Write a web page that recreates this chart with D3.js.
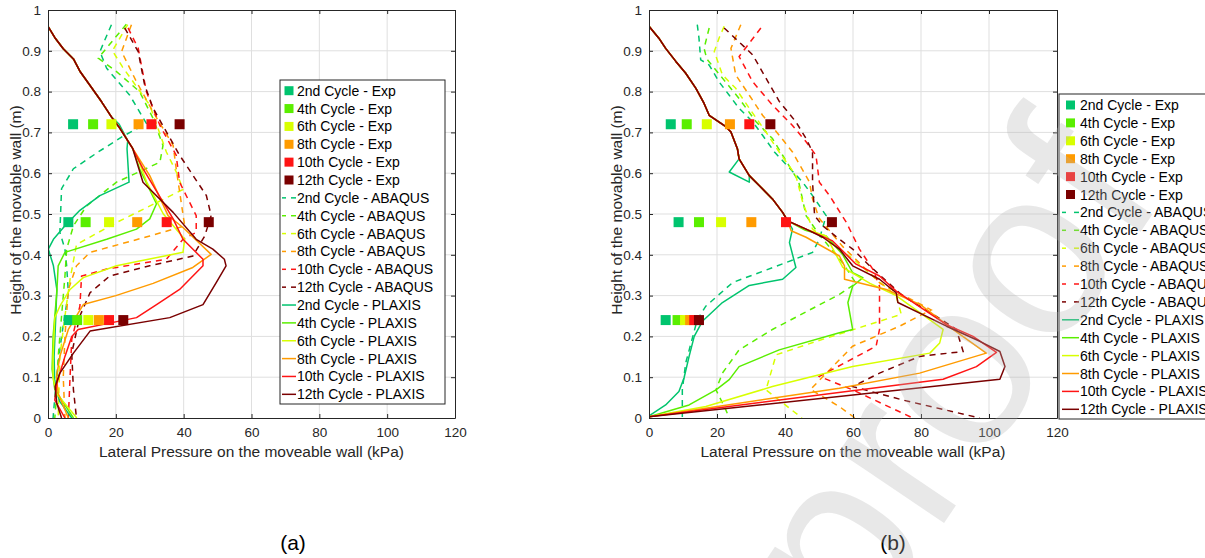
<!DOCTYPE html>
<html>
<head>
<meta charset="utf-8">
<script src="https://cdn.jsdelivr.net/npm/d3@7"></script>
<style>
  html, body { margin: 0; padding: 0; background: #fff; }
  svg { display: block; font-family: "Liberation Sans", Arial, sans-serif; }
</style>
</head>
<body>
<svg id="fig" width="1205" height="558"></svg>
<script>
// ---------- shared definitions ----------
const cycles = ["2nd", "4th", "6th", "8th", "10th", "12th"];
const cycleColors = ["#00c46e", "#5aee00", "#d8ff00", "#ff9b00", "#ff1414", "#7a0000"];
const expHeights = [0.72, 0.48, 0.24];
const xTicks = [0, 20, 40, 60, 80, 100, 120];
const yTicks = [0, 0.1, 0.2, 0.3, 0.4, 0.5, 0.6, 0.7, 0.8, 0.9, 1];

// ---------- panel (a) ----------
// measured pressure (kPa) at heights 0.72, 0.48, 0.24 m, one row per cycle
const expA = [
  [7.4, 6.0, 6.1],
  [13.3, 11.1, 8.6],
  [18.7, 18.0, 11.9],
  [26.7, 26.3, 15.0],
  [30.5, 35.0, 18.0],
  [38.8, 47.4, 22.2]
];
// ABAQUS profiles, [pressure kPa, height m]
const abaqusA = [
  [[18.7,0.964],[15.3,0.898],[17.3,0.857],[24.1,0.791],[29,0.722],[22,0.69],[14.8,0.652],[7.5,0.611],[4,0.562],[3.5,0.455],[5,0.414],[5.5,0.373],[6,0.307],[4,0.2],[2.5,0.1],[1.5,0]],
  [[23.1,0.965],[14.8,0.882],[20.2,0.849],[27,0.8],[31,0.734],[33.9,0.668],[33,0.627],[20.2,0.578],[11.4,0.52],[7.5,0.471],[5.5,0.414],[5,0.348],[4,0.25],[3,0.15],[2.5,0.05],[2,0]],
  [[23.5,0.964],[19,0.9],[22,0.86],[30,0.767],[34.9,0.652],[38,0.6],[39.8,0.56],[19.2,0.475],[8.4,0.425],[6.5,0.34],[5,0.25],[3.5,0.15],[3,0]],
  [[24.6,0.964],[21.7,0.898],[26.1,0.824],[31,0.75],[36.9,0.668],[37.8,0.611],[40.3,0.471],[30,0.446],[12.4,0.406],[8.4,0.373],[6,0.315],[5,0.2],[4.5,0.1],[5,0]],
  [[23.6,0.956],[26.6,0.906],[29,0.8],[33,0.717],[37.8,0.644],[38.8,0.578],[43.7,0.496],[43.7,0.455],[39.8,0.438],[34.9,0.389],[17.3,0.365],[9.9,0.348],[9.4,0.274],[7,0.192],[6.5,0.1],[6,0]],
  [[22.6,0.956],[26.6,0.898],[28.5,0.816],[31,0.759],[38.8,0.644],[46.7,0.545],[48.1,0.496],[46.2,0.446],[42.7,0.397],[30,0.373],[18.2,0.348],[12.4,0.307],[9.4,0.25],[7,0.159],[7.5,0.069],[8.4,0]]
];
// PLAXIS profiles share the upper part of the wall
const plaxisTopA = [[0,0.96],[2.2,0.93],[4.5,0.905],[7.5,0.88],[9.4,0.85],[12.4,0.815],[15.8,0.775],[18.7,0.738]];
const plaxisA = [
  plaxisTopA.concat([[21,0.72],[23.5,0.68],[23.3,0.66],[23.9,0.578],[15.3,0.545],[9.4,0.509],[5,0.471],[1.6,0.438],[0.1,0.414],[1.6,0.373],[2.6,0.315],[2.3,0.25],[1.8,0.15],[2,0.08],[3.5,0.04],[7,0]]),
  plaxisTopA.concat([[21.2,0.71],[25,0.66],[27,0.611],[32,0.525],[30,0.488],[26.1,0.463],[17.3,0.438],[5,0.406],[3,0.373],[2.6,0.308],[1.5,0.2],[1.2,0.12],[2,0.07],[7.5,0]]),
  plaxisTopA.concat([[21.2,0.71],[25,0.66],[27,0.625],[29,0.58],[34,0.5],[40.3,0.438],[39.8,0.406],[27,0.385],[20.2,0.373],[10.4,0.344],[6.5,0.315],[3.5,0.274],[2,0.246],[1.5,0.15],[1.5,0.1],[2.5,0.06],[8.5,0]]),
  plaxisTopA.concat([[21.2,0.71],[25,0.66],[30,0.594],[35.4,0.496],[39.8,0.467],[48.1,0.401],[42.7,0.369],[31,0.33],[20,0.3],[10.4,0.278],[6,0.217],[3.5,0.151],[2.5,0.1],[3,0.06],[6,0]]),
  plaxisTopA.concat([[21.2,0.71],[25,0.66],[28,0.611],[36.9,0.488],[39.8,0.438],[45.7,0.389],[45.7,0.373],[38.8,0.315],[32,0.278],[26.1,0.246],[8.9,0.217],[7,0.2],[5,0.151],[2.6,0.085],[2,0.044],[5,0]]),
  plaxisTopA.concat([[21.2,0.71],[25,0.66],[28,0.578],[36.9,0.504],[43.7,0.438],[48.6,0.414],[52,0.389],[52.5,0.373],[49.6,0.332],[45.7,0.278],[35.9,0.246],[12.4,0.213],[7.5,0.159],[3.5,0.11],[2.1,0.077],[2.6,0.036],[4,0]])
];

// ---------- panel (b) ----------
const expB = [
  [6.4, 8.7, 4.9],
  [11.1, 14.7, 8.4],
  [17.0, 21.2, 10.6],
  [23.8, 30.1, 12.1],
  [29.5, 40.3, 13.3],
  [35.7, 53.8, 14.7]
];
const abaqusB = [
  [[14.2,0.964],[14.7,0.931],[15.2,0.878],[17.7,0.865],[20.6,0.824],[23.6,0.791],[26.5,0.759],[30.5,0.726],[33.4,0.693],[36.9,0.652],[45.2,0.578],[48.1,0.545],[52.1,0.496],[50.1,0.438],[48.1,0.406],[40.3,0.381],[24.6,0.332],[16.7,0.274],[14.2,0.241],[10.8,0.135],[9.8,0.069],[9.8,0]],
  [[17.7,0.956],[16.2,0.906],[17,0.88],[21.6,0.833],[26.5,0.783],[31.5,0.726],[36.3,0.685],[39.3,0.644],[44,0.58],[46.2,0.496],[50,0.45],[57,0.38],[60.9,0.33],[56,0.303],[36.3,0.217],[26.5,0.167],[21.6,0.11],[19.7,0.069],[22.6,0.02],[23.6,0]],
  [[22.1,0.96],[20.6,0.931],[19.2,0.898],[21.6,0.841],[25.5,0.808],[29.5,0.759],[34.4,0.701],[38.3,0.652],[43.2,0.594],[45.2,0.529],[48.1,0.463],[60,0.39],[72.7,0.299],[74.2,0.254],[50,0.19],[37.4,0.155],[34.4,0.069],[45,0]],
  [[27,0.964],[24.1,0.906],[25.5,0.841],[29.5,0.791],[33.4,0.742],[38.3,0.693],[42.2,0.652],[47.2,0.578],[48.1,0.537],[50,0.49],[57,0.42],[68,0.33],[83,0.265],[73.7,0.225],[59.9,0.176],[47.5,0.07],[56,0.028],[60.6,0]],
  [[32.9,0.956],[26.5,0.886],[30.5,0.824],[36.3,0.767],[42.2,0.717],[46.2,0.677],[49.1,0.644],[50.1,0.578],[53.1,0.545],[58,0.48],[61.9,0.414],[65.8,0.365],[67.8,0.323],[67.8,0.217],[66.8,0.176],[50.1,0.102],[59.9,0.069],[77.6,0]],
  [[22.1,0.956],[28.5,0.906],[30.5,0.89],[34.4,0.833],[38.3,0.776],[43.2,0.726],[46.2,0.685],[48.1,0.652],[48.1,0.578],[48.7,0.496],[51.1,0.471],[56,0.438],[59.9,0.414],[64.9,0.373],[74.7,0.299],[79.6,0.274],[84.5,0.249],[90.4,0.217],[92.4,0.163],[79.6,0.151],[67.8,0.11],[59.9,0.077],[74.7,0.044],[97.3,0]]
];
const plaxisTopB = [[0,0.96],[2.9,0.931],[4.9,0.906],[7.9,0.874],[10.8,0.845],[13.8,0.808],[16.2,0.771],[17.7,0.742],[22.6,0.714],[24.1,0.701],[26,0.66],[26.5,0.635]];
const plaxisMidB = [[29.5,0.594],[32.4,0.57],[36.3,0.537],[39.3,0.504],[40.8,0.483]];
const plaxisB = [
  plaxisTopB.concat([[23.6,0.603],[29.5,0.578]], plaxisMidB, [[42.2,0.463],[41.3,0.43],[43.2,0.369],[39.3,0.34],[29.5,0.325],[21.6,0.283],[15.7,0.237],[13.3,0.2],[11.8,0.151],[10.3,0.098],[8.8,0.065],[4.9,0.032],[0,0.005]]),
  plaxisTopB.concat(plaxisMidB, [[46,0.46],[52.1,0.446],[57,0.4],[59.9,0.356],[62.9,0.344],[59.9,0.323],[58.5,0.283],[59.9,0.217],[56,0.209],[38.3,0.167],[26.5,0.126],[23.6,0.094],[19.7,0.069],[11.8,0.032],[0,0.003]]),
  plaxisTopB.concat(plaxisMidB, [[47,0.46],[52.1,0.446],[57,0.369],[65,0.33],[72.7,0.3],[86.5,0.217],[85.5,0.184],[82.6,0.159],[59.9,0.126],[50.1,0.106],[36.3,0.077],[16.7,0.028],[0,0.003]]),
  plaxisTopB.concat(plaxisMidB, [[41.8,0.459],[46.2,0.443],[56,0.397],[57.5,0.373],[57.5,0.34],[69.8,0.315],[79.8,0.278],[89.4,0.217],[99.2,0.159],[79.6,0.11],[56,0.073],[0,0.003]]),
  plaxisTopB.concat(plaxisMidB, [[47,0.46],[54,0.434],[60.9,0.377],[67.8,0.348],[72.7,0.311],[87.5,0.229],[95.3,0.2],[102.2,0.161],[96.3,0.126],[86.5,0.095],[0,0.003]]),
  plaxisTopB.concat(plaxisMidB, [[46.2,0.463],[51.1,0.443],[56,0.414],[59.9,0.373],[67.8,0.34],[72.7,0.307],[73.2,0.283],[87.5,0.225],[97.3,0.188],[103.2,0.163],[104.7,0.126],[103.2,0.095],[0,0.003]])
];

// ---------- drawing ----------
const svg = d3.select("#fig");

function drawPanel(opt) {
  const x = d3.scaleLinear().domain([0, 120]).range(opt.xRange);
  const y = d3.scaleLinear().domain([0, 1]).range([418, 10]);
  const g = svg.append("g");
  const [x0, x1] = opt.xRange;
  const clipId = "clip-" + opt.tag.replace(/\W/g, "");

  g.append("clipPath").attr("id", clipId)
    .append("rect").attr("x", x0).attr("y", 10).attr("width", x1 - x0).attr("height", 408);

  // grid
  g.append("g").selectAll("line").data(xTicks.slice(1, -1)).join("line")
    .attr("x1", d => x(d)).attr("x2", d => x(d)).attr("y1", 10).attr("y2", 418)
    .attr("stroke", "#dfdfdf").attr("stroke-width", 1);
  g.append("g").selectAll("line").data(yTicks.slice(1, -1)).join("line")
    .attr("y1", d => y(d)).attr("y2", d => y(d)).attr("x1", x0).attr("x2", x1)
    .attr("stroke", "#dfdfdf").attr("stroke-width", 1);

  const plot = g.append("g").attr("clip-path", `url(#${clipId})`);
  const line = d3.line().x(d => x(d[0])).y(d => y(d[1]));

  // ABAQUS (dashed)
  plot.selectAll("path.abq").data(opt.abaqus).join("path")
    .attr("class", "abq")
    .attr("d", line).attr("fill", "none")
    .attr("stroke", (d, i) => cycleColors[i])
    .attr("stroke-width", 1.5).attr("stroke-dasharray", "6,5");

  // PLAXIS (solid)
  plot.selectAll("path.plx").data(opt.plaxis).join("path")
    .attr("class", "plx")
    .attr("d", line).attr("fill", "none")
    .attr("stroke", (d, i) => cycleColors[i])
    .attr("stroke-width", 1.5).attr("stroke-linejoin", "round");

  // experimental points
  opt.exp.forEach((row, i) => {
    plot.selectAll(null).data(row.map((v, k) => [v, expHeights[k]])).join("rect")
      .attr("x", d => x(d[0]) - 5).attr("y", d => y(d[1]) - 5)
      .attr("width", 10).attr("height", 10)
      .attr("fill", cycleColors[i]);
  });

  // axes (box with inward ticks on all sides)
  const axisColor = "#262626";
  const ax = g.append("g").attr("transform", "translate(0,418)")
    .call(d3.axisBottom(x).tickValues(xTicks).tickSizeInner(-4).tickSizeOuter(0).tickPadding(9));
  const ay = g.append("g").attr("transform", `translate(${x0},0)`)
    .call(d3.axisLeft(y).tickValues(yTicks).tickFormat(d3.format("~g")).tickSizeInner(-4).tickSizeOuter(0).tickPadding(7));
  const axT = g.append("g").attr("transform", "translate(0,10)")
    .call(d3.axisTop(x).tickValues(xTicks).tickSizeInner(-4).tickSizeOuter(0).tickFormat(""));
  const ayR = g.append("g").attr("transform", `translate(${x1},0)`)
    .call(d3.axisRight(y).tickValues(yTicks).tickSizeInner(-4).tickSizeOuter(0).tickFormat(""));
  [ax, ay, axT, ayR].forEach(a => {
    a.select(".domain").attr("stroke", axisColor).attr("stroke-width", 1);
    a.selectAll(".tick line").attr("stroke", axisColor);
    a.selectAll(".tick text").attr("fill", axisColor).attr("font-size", 13.5)
      .attr("font-family", "'Liberation Sans', Arial, sans-serif");
  });

  // axis titles
  g.append("text").attr("x", (x0 + x1) / 2).attr("y", 457)
    .attr("text-anchor", "middle").attr("font-size", 15.5).attr("fill", axisColor)
    .text("Lateral Pressure on the moveable wall (kPa)");
  g.append("text").attr("transform", `translate(${x0 - 27},210) rotate(-90)`)
    .attr("text-anchor", "middle").attr("font-size", 15.5).attr("fill", axisColor)
    .text("Height of the movable wall (m)");

  // panel tag
  g.append("text").attr("x", opt.tagX).attr("y", 550)
    .attr("text-anchor", "middle").attr("font-size", 21).attr("fill", "#000")
    .text(opt.tag);

  // legend
  const L = opt.legend;
  const lg = svg.append("g");
  lg.append("rect").attr("x", L.x).attr("y", L.y).attr("width", L.w).attr("height", L.h)
    .attr("fill", "#fff").attr("stroke", axisColor).attr("stroke-width", 1);
  const entries = [];
  cycles.forEach((c, i) => entries.push({ label: c + " Cycle - Exp", kind: "exp", color: cycleColors[i] }));
  cycles.forEach((c, i) => entries.push({ label: c + " Cycle - ABAQUS", kind: "abq", color: cycleColors[i] }));
  cycles.forEach((c, i) => entries.push({ label: c + " Cycle - PLAXIS", kind: "plx", color: cycleColors[i] }));
  entries.forEach((e, i) => {
    const cy = L.row0 + i * L.step;
    const sx = L.x + L.pad;
    const sw = L.textDx - L.pad - 1;
    if (e.kind === "exp") {
      lg.append("rect").attr("x", sx + sw / 2 - 4.5).attr("y", cy - 4.5).attr("width", 9).attr("height", 9).attr("fill", e.color);
    } else if (e.kind === "abq") {
      lg.append("line").attr("x1", sx).attr("x2", sx + 4).attr("y1", cy).attr("y2", cy).attr("stroke", e.color).attr("stroke-width", 1.5);
      lg.append("line").attr("x1", sx + sw - 5).attr("x2", sx + sw).attr("y1", cy).attr("y2", cy).attr("stroke", e.color).attr("stroke-width", 1.5);
    } else {
      lg.append("line").attr("x1", sx).attr("x2", sx + sw).attr("y1", cy).attr("y2", cy).attr("stroke", e.color).attr("stroke-width", 1.5);
    }
    lg.append("text").attr("x", L.x + L.textDx).attr("y", cy + 5)
      .attr("font-size", 14).attr("fill", "#000").text(e.label);
  });
}

drawPanel({
  tag: "(a)", tagX: 293, xRange: [48, 455],
  exp: expA, abaqus: abaqusA, plaxis: plaxisA,
  legend: { x: 280, y: 80, w: 165, h: 324, row0: 90.7, step: 17.86, pad: 2, textDx: 17 }
});
drawPanel({
  tag: "(b)", tagX: 893, xRange: [649, 1057],
  exp: expB, abaqus: abaqusB, plaxis: plaxisB,
  legend: { x: 1059, y: 94, w: 170, h: 325, row0: 105, step: 17.9, pad: 3, textDx: 21 }
});

// translucent page watermark laid over the figure
svg.append("text")
  .attr("transform", "translate(1166,194) rotate(-56)")
  .attr("text-anchor", "end")
  .attr("font-size", 240)
  .attr("fill", "#b4b4b4")
  .attr("fill-opacity", 0.3)
  .attr("pointer-events", "none")
  .text("Journal Pre-proof");
</script>
</body>
</html>
